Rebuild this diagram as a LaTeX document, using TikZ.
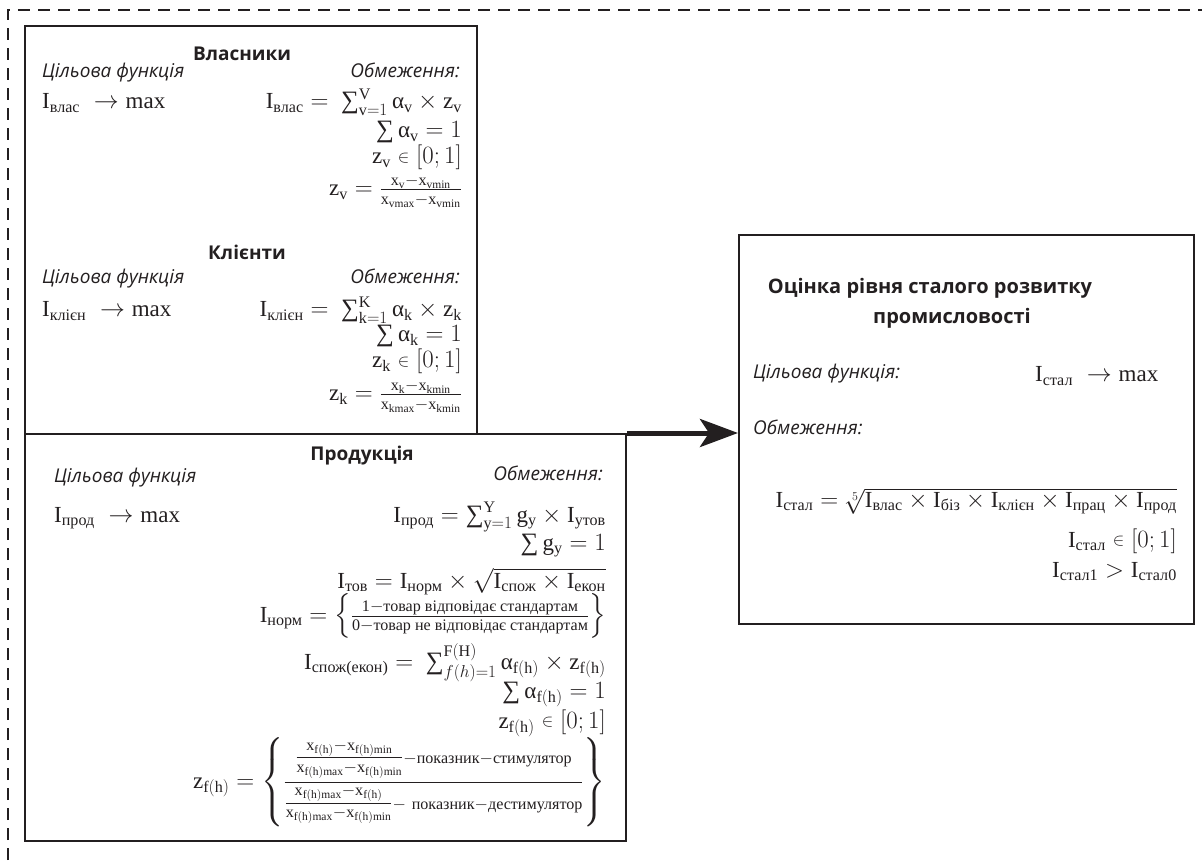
\documentclass[tikz,border=0pt]{standalone}
\usepackage{amsmath}
\usepackage{fontspec}
\setmainfont{Liberation Serif}
\newfontfamily\headfont{Open Sans}
\usetikzlibrary{arrows.meta}
\definecolor{ink}{HTML}{231F20}
\newcommand{\Ind}[1]{\mathrm{I}_{\text{#1}}}
\newcommand{\al}{\text{α}}
\newcommand{\inn}{\mathrel{\raisebox{0.15ex}{$\scriptstyle\in$}}}
\newcommand{\Sum}{\mathop{\text{\fontsize{25}{25}\selectfont∑}}\nolimits}
\tikzset{
    panel/.style={draw=ink,line width=2.2pt,inner sep=0pt,anchor=north west},
    head/.style={font=\headfont\bfseries\fontsize{19}{22}\selectfont,text=ink,inner sep=0pt},
    title/.style={font=\headfont\bfseries\fontsize{20}{24}\selectfont,text=ink,inner sep=0pt},
    lbl/.style={font=\headfont\itshape\fontsize{19}{23}\selectfont,text=ink,inner sep=0pt},
    eq/.style={font=\fontsize{23}{27}\selectfont,text=ink,inner sep=0pt},
    frame/.style={draw=ink,line width=2pt,dash pattern=on 12pt off 8pt},
    flow/.style={draw=ink,line width=5pt,-{Stealth[length=38pt,width=28pt,inset=9pt]}},
}

\begin{document}
\begin{tikzpicture}[x=1pt,y=-1pt]
\useasboundingbox (0,0) rectangle (1202,866);
\draw[frame] (8,880) |- (1215,10);

% boxes
\node[panel,minimum width=452pt,minimum height=408pt] (own) at (24,25) {};
\node[panel,minimum width=601pt,minimum height=407pt] (prod) at (24,433) {};
\node[panel,minimum width=455pt,minimum height=389pt] (res) at (738,234) {};

% owners
\node[head] (ownT) at (242,54) {Власники};
\node[lbl,anchor=base west] (ownF) at (42,78) {Цільова функція};
\node[lbl,anchor=base east] (ownC) at (460,78) {Обмеження:};
\node[eq,anchor=base west] (ownM) at (42,109) {$\Ind{влас}\;\to \mathrm{max}$};
\node[eq,anchor=base east] (ownE1) at (462,109)
    {$\Ind{влас} = \ \Sum_{\mathrm{v}=1}^{\mathrm{V}} \al_{\mathrm{v}} \times \mathrm{z}_{\mathrm{v}}$};
\node[eq,anchor=base east] (ownE2) at (462,138) {$\Sum \al_{\mathrm{v}} = 1$};
\node[eq,anchor=base east] (ownE3) at (462,164) {$\mathrm{z}_{\mathrm{v}} \inn [0;1]$};
\node[eq,anchor=base east] (ownE4) at (462,196)
    {$\mathrm{z}_{\mathrm{v}} = \frac{\mathrm{x}_{\mathrm{v}}-\mathrm{x}_{\mathrm{vmin}}}{\mathrm{x}_{\mathrm{vmax}}-\mathrm{x}_{\mathrm{vmin}}}$};

% clients
\node[head] (cliT) at (247,252) {Клієнти};
\node[lbl,anchor=base west] (cliF) at (42,284) {Цільова функція};
\node[lbl,anchor=base east] (cliC) at (460,284) {Обмеження:};
\node[eq,anchor=base west] (cliM) at (42,317) {$\Ind{клієн}\;\to \mathrm{max}$};
\node[eq,anchor=base east] (cliE1) at (462,317)
    {$\Ind{клієн} = \ \Sum_{\mathrm{k}=1}^{\mathrm{K}} \al_{\mathrm{k}} \times \mathrm{z}_{\mathrm{k}}$};
\node[eq,anchor=base east] (cliE2) at (462,342) {$\Sum \al_{\mathrm{k}} = 1$};
\node[eq,anchor=base east] (cliE3) at (462,368) {$\mathrm{z}_{\mathrm{k}} \inn [0;1]$};
\node[eq,anchor=base east] (cliE4) at (462,401)
    {$\mathrm{z}_{\mathrm{k}} = \frac{\mathrm{x}_{\mathrm{k}}-\mathrm{x}_{\mathrm{kmin}}}{\mathrm{x}_{\mathrm{kmax}}-\mathrm{x}_{\mathrm{kmin}}}$};

% products
\node[head] (prodT) at (362,456) {Продукція};
\node[lbl,anchor=base west] (prodF) at (54,482) {Цільова функція};
\node[lbl,anchor=base east] (prodC) at (603,480) {Обмеження:};
\node[eq,anchor=base west] (prodM) at (54,522) {$\Ind{прод}\;\to \mathrm{max}$};
\node[eq,anchor=base east] (prodE1) at (606,522)
    {$\Ind{прод} = \Sum_{\mathrm{y}=1}^{\mathrm{Y}} \mathrm{g}_{\mathrm{y}} \times \mathrm{I}_{\mathrm{y}\text{тов}}$};
\node[eq,anchor=base east] (prodE2) at (606,550) {$\Sum \mathrm{g}_{\mathrm{y}} = 1$};
\node[eq,anchor=base east] (prodE3) at (606,588)
    {$\Ind{тов} = \Ind{норм} \times \sqrt{\Ind{спож} \times \Ind{екон}}$};
\node[eq,anchor=east] (prodE4) at (606,616)
    {$\Ind{норм} = \left\{\frac{\text{1}-\text{товар відповідає стандартам}}{\text{0}-\text{товар не відповідає стандартам}}\right\}$};
\node[eq,anchor=base east] (prodE5) at (606,669)
    {$\Ind{спож(екон)} = \ \Sum_{f(h)=1}^{\mathrm{F(H)}} \al_{\mathrm{f(h)}} \times \mathrm{z}_{\mathrm{f(h)}}$};
\node[eq,anchor=base east] (prodE6) at (606,698) {$\Sum \al_{\mathrm{f(h)}} = 1$};
\node[eq,anchor=base east] (prodE7) at (606,728) {$\mathrm{z}_{\mathrm{f(h)}} \inn [0;1]$};
\node[eq,anchor=east] (prodE8) at (606,782)
    {$\mathrm{z}_{\mathrm{f(h)}} = \left\{\genfrac{}{}{}{0}
      {\frac{\mathrm{x}_{\mathrm{f(h)}}-\mathrm{x}_{\mathrm{f(h)min}}}{\mathrm{x}_{\mathrm{f(h)max}}-\mathrm{x}_{\mathrm{f(h)min}}}{\scriptstyle -\text{показник}-\text{стимулятор}}}
      {\frac{\mathrm{x}_{\mathrm{f(h)max}}-\mathrm{x}_{\mathrm{f(h)}}}{\mathrm{x}_{\mathrm{f(h)max}}-\mathrm{x}_{\mathrm{f(h)min}}}{\scriptstyle -\ \text{показник}-\text{дестимулятор}}}
      \right\}$};

% result
\node[title] (resT1) at (930,288) {Оцінка рівня сталого розвитку};
\node[title] (resT2) at (952,318) {промисловості};
\node[lbl,anchor=base west] (resF) at (753,379) {Цільова функція:};
\node[eq,anchor=base west] (resM) at (1035,382) {$\Ind{стал}\;\to \mathrm{max}$};
\node[lbl,anchor=base west] (resC) at (753,434) {Обмеження:};
\node[eq,anchor=base east] (resE1) at (1177,507)
    {$\Ind{стал} = \sqrt[5]{\Ind{влас}\times\Ind{біз}\times\Ind{клієн}\times\Ind{прац}\times\Ind{прод}}$};
\node[eq,anchor=base east] (resE2) at (1177,547) {$\Ind{стал} \inn [0;1]$};
\node[eq,anchor=base east] (resE3) at (1177,577) {$\Ind{стал1} > \Ind{стал0}$};

\draw[flow] (prod.north east) -- (prod.north east -| res.west);
\end{tikzpicture}
\end{document}
